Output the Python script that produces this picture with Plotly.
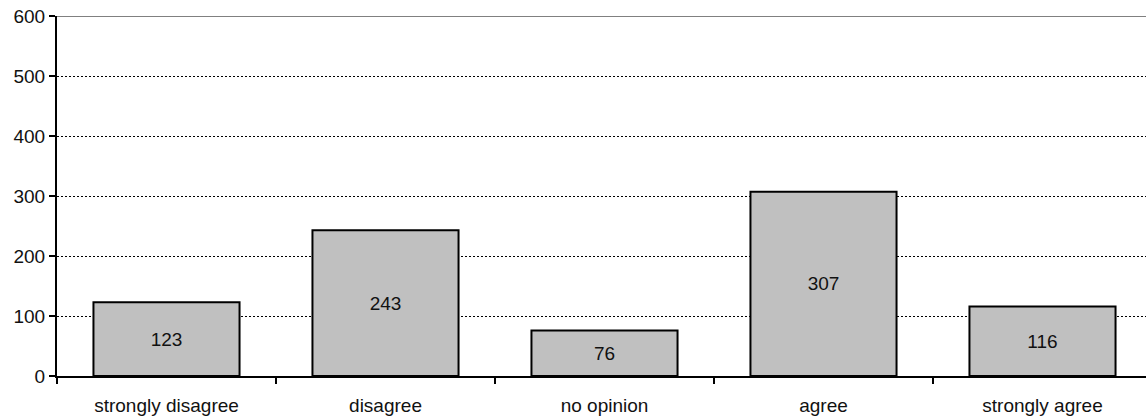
import plotly.graph_objects as go

categories = ["strongly disagree", "disagree", "no opinion", "agree", "strongly agree"]
counts = [123, 243, 76, 307, 116]
y_ticks = [0, 100, 200, 300, 400, 500, 600]

FONT = "Liberation Sans, Arial, sans-serif"
FS = 19

fig = go.Figure(
    go.Bar(
        x=categories,
        y=counts,
        text=[str(v) for v in counts],
        textposition="inside",
        insidetextanchor="middle",
        textangle=0,
        textfont=dict(family=FONT, size=FS, color="#111111"),
        marker=dict(color="#c0c0c0", line=dict(color="#000000", width=2)),
        cliponaxis=False,
    )
)

fig.update_layout(
    width=1146,
    height=420,
    margin=dict(l=57, r=0, t=16, b=44),
    paper_bgcolor="white",
    plot_bgcolor="white",
    bargap=0.333,
    showlegend=False,
    font=dict(family=FONT, size=FS, color="#111111"),
    uniformtext=dict(minsize=FS, mode="show"),
)

fig.update_xaxes(
    range=[-0.5, 4.4726],
    showline=True,
    linecolor="#000000",
    linewidth=2,
    ticks="outside",
    tickson="boundaries",
    ticklen=6,
    tickwidth=2,
    tickcolor="#000000",
    showgrid=False,
    ticklabelstandoff=11,
    tickfont=dict(family=FONT, size=FS, color="#111111"),
)

fig.update_yaxes(
    range=[0, 600],
    tickvals=y_ticks,
    showline=True,
    linecolor="#000000",
    linewidth=2,
    ticks="outside",
    ticklen=6,
    tickwidth=2,
    tickcolor="#000000",
    showgrid=True,
    gridcolor="#000000",
    gridwidth=1,
    griddash="2px,2px",
    zeroline=False,
    ticklabelstandoff=0,
    tickfont=dict(family=FONT, size=FS, color="#111111"),
)

# solid gray rule along the top of the value range
fig.add_shape(
    type="line",
    xref="paper",
    yref="y",
    x0=0,
    x1=1,
    y0=600,
    y1=600,
    line=dict(color="#808080", width=2),
    layer="above",
)

fig.write_html("out.html")
